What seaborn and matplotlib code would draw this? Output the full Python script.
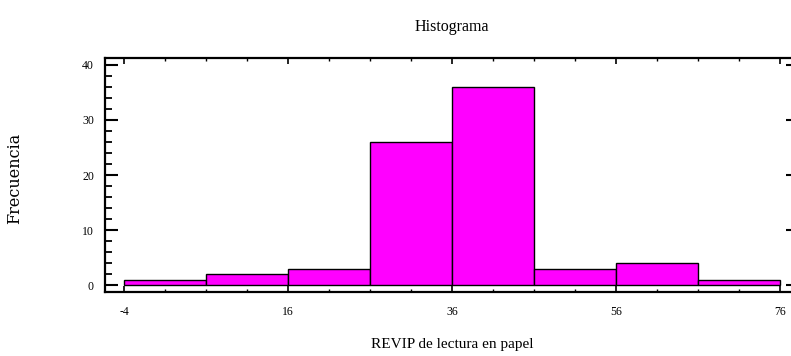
import numpy as np
import pandas as pd
import matplotlib
matplotlib.use("Agg")
import matplotlib.pyplot as plt
import seaborn as sns
from matplotlib.ticker import MultipleLocator, FixedLocator

# ---- data ----
bin_edges = [-4, 6, 16, 26, 36, 46, 56, 66, 76]
counts = [1, 2, 3, 26, 36, 3, 4, 1]
x_ticks = [-4, 16, 36, 56, 76]
y_ticks = [0, 10, 20, 30, 40]
title = "Histograma"
x_label = "REVIP de lectura en papel"
y_label = "Frecuencia"

centers = [(a + b) / 2 for a, b in zip(bin_edges[:-1], bin_edges[1:])]
df = pd.DataFrame({"valor": centers, "n": counts})

sns.set_theme(style="white")
plt.rcParams["font.family"] = ["Liberation Serif", "DejaVu Serif"]
plt.rcParams["axes.unicode_minus"] = False
plt.rcParams["text.color"] = "black"
plt.rcParams["axes.labelcolor"] = "black"
plt.rcParams["xtick.color"] = "black"
plt.rcParams["ytick.color"] = "black"

W, H = 791, 356
fig = plt.figure(figsize=(W / 100, H / 100), dpi=100)
left, right, top, bottom = 105, 799, 58.3, 292.3
ax = fig.add_axes([left / W, 1 - bottom / H, (right - left) / W, (bottom - top) / H])

sns.histplot(data=df, x="valor", weights="n", bins=bin_edges, ax=ax,
             color="#FF00FF", alpha=1.0, edgecolor="black", linewidth=1.0)

ax.set_xlim(-6.35, 78.35)
ax.set_ylim(-1.3, 41.2)

ax.xaxis.set_major_locator(FixedLocator(x_ticks))
ax.xaxis.set_minor_locator(MultipleLocator(5, offset=1))
ax.yaxis.set_major_locator(FixedLocator(y_ticks))
ax.yaxis.set_minor_locator(MultipleLocator(2))

for s in ax.spines.values():
    s.set_visible(True)
    s.set_linewidth(1.6)
    s.set_color("black")

ax.tick_params(axis="x", which="major", direction="in", top=True, bottom=True,
               length=4, width=1.2, colors="black", labelsize=8.5, pad=10)
ax.tick_params(axis="x", which="minor", direction="in", top=True, bottom=True,
               length=2, width=1.0, colors="black")
ax.tick_params(axis="y", which="major", direction="in", left=True, right=True,
               length=9.5, width=1.5, colors="black", labelsize=8.5, pad=8)
ax.tick_params(axis="y", which="minor", direction="in", left=True, right=False,
               length=5, width=1.3, colors="black")

ax.set_title(title, fontsize=11.5, pad=20, color="black")
ax.set_xlabel(x_label, fontsize=11, labelpad=14, color="black")
ax.set_ylabel("")
fig.text(15 / W, 1 - 178 / H, y_label, rotation=90, ha="center", va="center",
         fontsize=11.5, family="DejaVu Serif", color="black")

fig.savefig("out.png", dpi=100)
